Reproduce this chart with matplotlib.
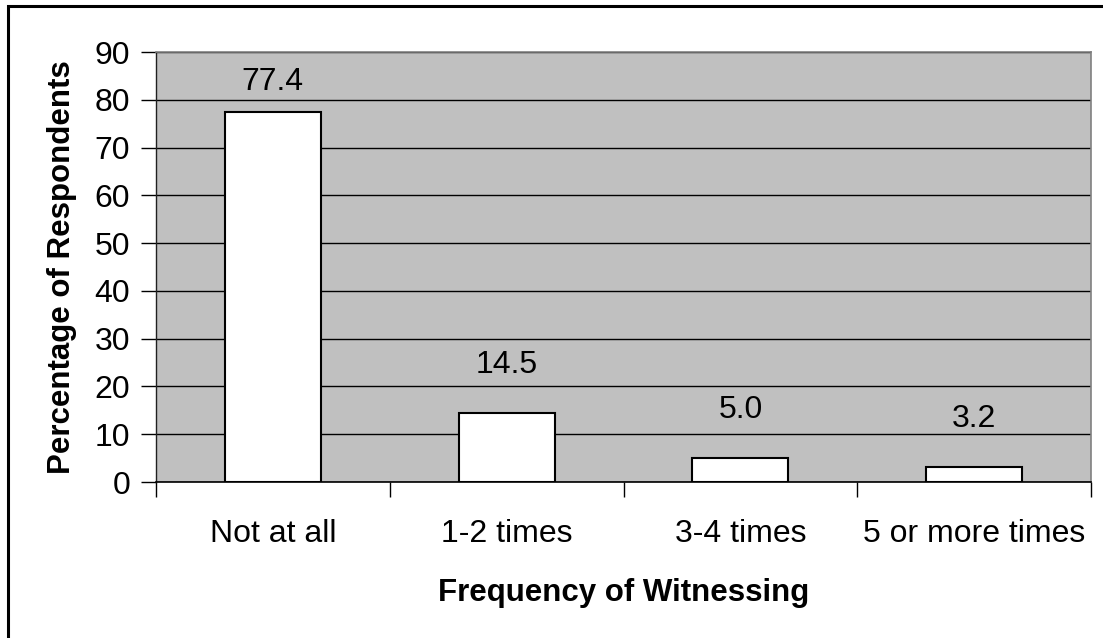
import matplotlib.pyplot as plt
from matplotlib.patches import Rectangle

categories = ['Not at all', '1-2 times', '3-4 times', '5 or more times']
percentages = [77.4, 14.5, 5.0, 3.2]
y_ticks = [0, 10, 20, 30, 40, 50, 60, 70, 80, 90]

plt.rcParams['font.family'] = ['Liberation Sans', 'DejaVu Sans']
FS = 23

fig = plt.figure(figsize=(11.03, 6.38), dpi=100)
ax = fig.add_axes([156 / 1103, 1 - 482 / 638, 935 / 1103, 430 / 638])

# outer frame (only top and left visible, like the original)
fig.patches.append(Rectangle((8 / 1103, -0.1), 1.2, 1.1 - 6 / 638,
                             transform=fig.transFigure, fill=False,
                             edgecolor='black', linewidth=2.2))

ax.set_facecolor('#c0c0c0')
x = list(range(len(categories)))
ax.bar(x, percentages, width=0.41, color='white', edgecolor='black',
       linewidth=1.5, zorder=3)

for xi, v in zip(x, percentages):
    ax.text(xi, min(v + 10, 83.7), f'{v:.1f}', ha='center', va='center',
            fontsize=FS, zorder=4)

ax.set_xlim(-0.5, len(categories) - 0.5)
ax.set_ylim(0, 90)
ax.set_yticks(y_ticks)
ax.tick_params(axis='y', labelsize=FS, length=11, width=1, pad=7.5)
ax.yaxis.grid(True, color='black', linewidth=1)
ax.set_axisbelow(True)

# category ticks sit on the boundaries between groups
ax.set_xticks([i - 0.5 for i in range(len(categories) + 1)])
ax.set_xticklabels([])
ax.set_xticks(x, minor=True)
ax.set_xticklabels(categories, minor=True, fontsize=FS)
ax.tick_params(axis='x', which='major', length=11, width=1)
ax.tick_params(axis='x', which='minor', length=0, pad=26.5)

for side in ['top', 'right']:
    ax.spines[side].set_color('#808080')
    ax.spines[side].set_linewidth(1.2)
ax.spines['left'].set_color('#202020')
ax.spines['left'].set_linewidth(1)
ax.spines['bottom'].set_color('black')
ax.spines['bottom'].set_linewidth(1.2)

ax.set_xlabel('Frequency of Witnessing', fontsize=22.5, fontweight='bold',
              labelpad=21)
ax.set_ylabel('Percentage of Respondents', fontsize=22.5, fontweight='bold',
              labelpad=13)

fig.savefig('out.png', dpi=100)
